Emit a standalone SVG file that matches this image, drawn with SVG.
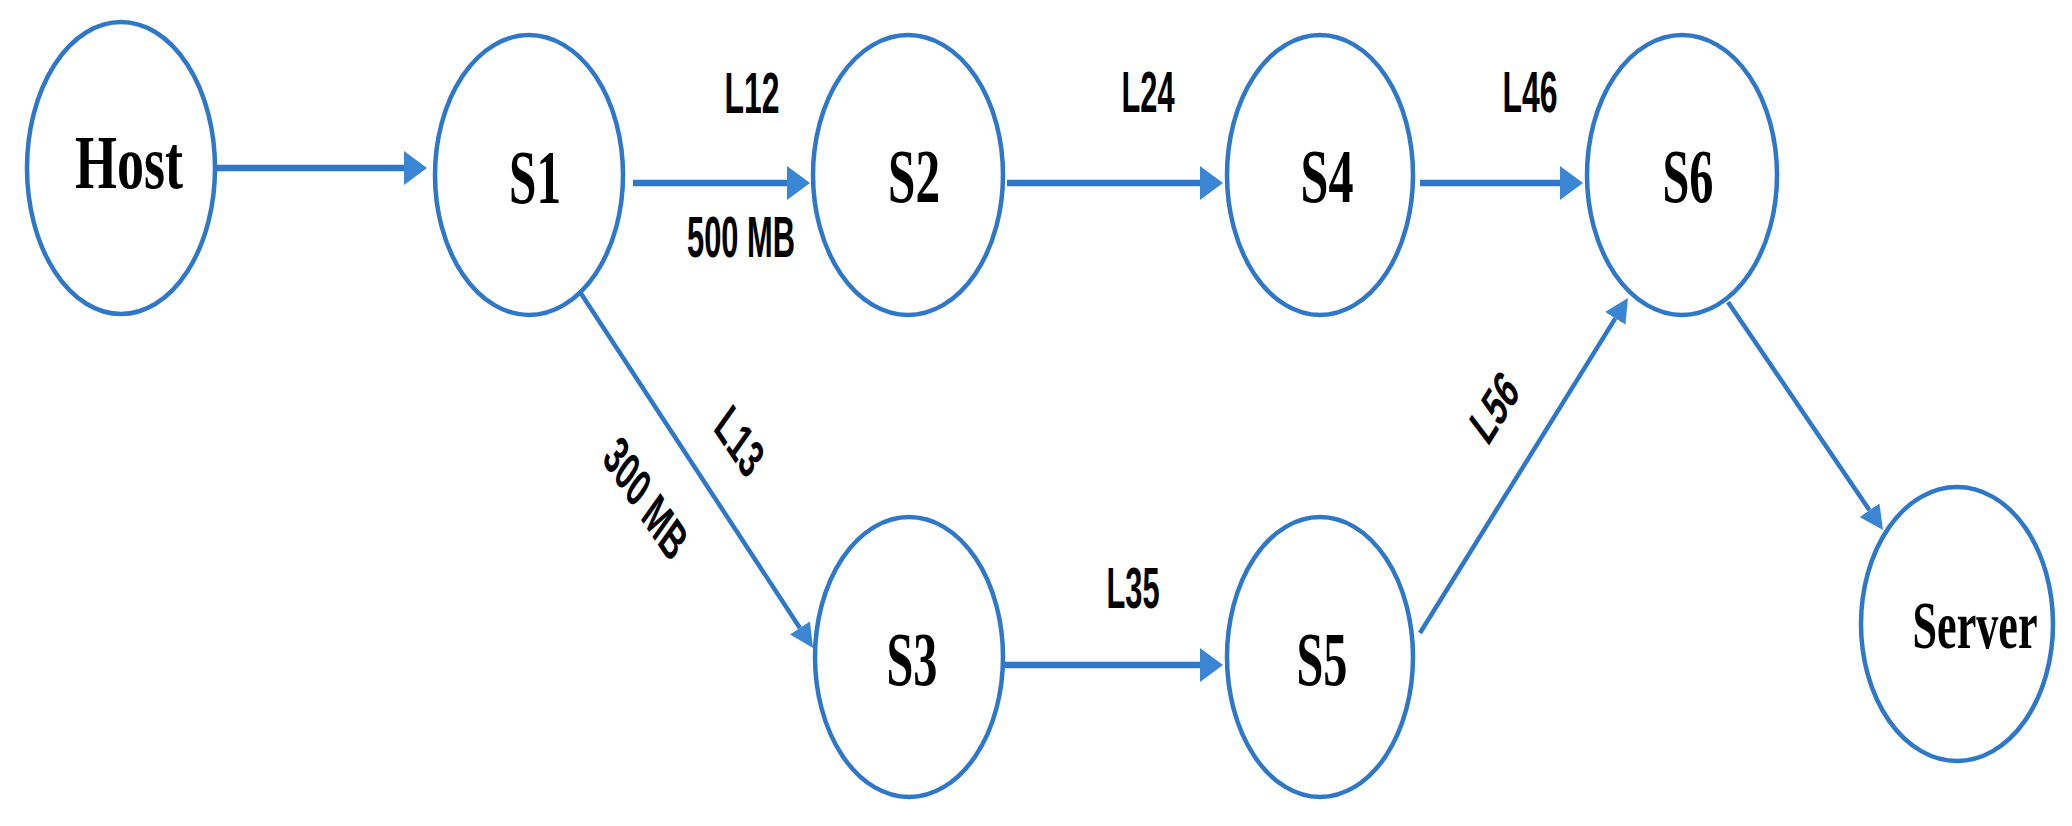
<svg xmlns="http://www.w3.org/2000/svg" width="2072" height="826" viewBox="0 0 2072 826">
<style>
.node{fill:#ffffff;stroke:#2E77C9;stroke-width:4.5}
.nl{font-family:"Liberation Serif","Times New Roman",serif;font-weight:bold;fill:#000;text-anchor:middle}
.el{font-family:"Liberation Sans Narrow","Liberation Sans",Arial,sans-serif;font-weight:bold;font-size:39px;fill:#000;text-anchor:middle}
.h{fill:none;stroke:#2E77C9;stroke-width:6.5;marker-end:url(#ah)}
.d{fill:none;stroke:#2E77C9;stroke-width:4.5;marker-end:url(#ad)}
</style>
<defs>
<marker id="ah" markerUnits="userSpaceOnUse" viewBox="0 -17 23 34" markerWidth="23" markerHeight="34" refX="0" refY="0" orient="auto">
<path d="M0,-17 L23,0 L0,17 Z" fill="#3A86D4"/>
</marker>
<marker id="ad" markerUnits="userSpaceOnUse" viewBox="0 -12 24 24" markerWidth="24" markerHeight="24" refX="0" refY="0" orient="auto">
<path d="M0,-12 L24,0 L0,12 Z" fill="#3A86D4"/>
</marker>
</defs>
<rect width="2072" height="826" fill="#ffffff"/>
<g id="connectors">
<path class="h" d="M217,168 H404"/>
<path class="h" d="M633,183 H787"/>
<path class="h" d="M1007,183 H1200"/>
<path class="h" d="M1420,183 H1560"/>
<path class="h" d="M1005,665 H1200"/>
<path class="d" d="M580,292 L799.9,627.9"/>
<path class="d" d="M1420,633 L1615.3,318.4"/>
<path class="d" d="M1728,302 L1869.5,510.2"/>
<g id="link-labels">
<text class="el" transform="translate(752,113) scale(1,1.45)" textLength="55" lengthAdjust="spacingAndGlyphs">L12</text>
<text class="el" transform="translate(741,257) scale(1,1.45)" textLength="108" lengthAdjust="spacingAndGlyphs">500 MB</text>
<text class="el" transform="translate(1148,112) scale(1,1.45)" textLength="53" lengthAdjust="spacingAndGlyphs">L24</text>
<text class="el" transform="translate(1530,112) scale(1,1.45)" textLength="55" lengthAdjust="spacingAndGlyphs">L46</text>
<text class="el" transform="translate(1133,608) scale(1,1.45)" textLength="53" lengthAdjust="spacingAndGlyphs">L35</text>
<text class="el" transform="translate(740,441) scale(1,1.45) rotate(45.9)" x="0" y="14" textLength="50" lengthAdjust="spacingAndGlyphs">L13</text>
<text class="el" transform="translate(646,498) scale(1,1.45) rotate(45.9)" x="0" y="14" textLength="100" lengthAdjust="spacingAndGlyphs">300 MB</text>
<text class="el" transform="translate(1494,407) scale(1,1.45) rotate(-48)" x="0" y="14" textLength="50" lengthAdjust="spacingAndGlyphs">L56</text>
</g>
</g>
<g id="host">
<ellipse class="node" cx="121" cy="168" rx="94" ry="146"/>
<text class="nl" font-size="52" transform="translate(129,188) scale(1,1.45)" textLength="108" lengthAdjust="spacingAndGlyphs">Host</text>
</g>
<g id="s1">
<ellipse class="node" cx="529" cy="175" rx="94" ry="140"/>
<text class="nl" font-size="53" transform="translate(535,203) scale(1,1.45)" textLength="52" lengthAdjust="spacingAndGlyphs">S1</text>
</g>
<g id="s2">
<ellipse class="node" cx="908" cy="175" rx="95" ry="140"/>
<text class="nl" font-size="53" transform="translate(914,202) scale(1,1.45)" textLength="52" lengthAdjust="spacingAndGlyphs">S2</text>
</g>
<g id="s4">
<ellipse class="node" cx="1320" cy="175" rx="93" ry="140"/>
<text class="nl" font-size="53" transform="translate(1327,202) scale(1,1.45)" textLength="53" lengthAdjust="spacingAndGlyphs">S4</text>
</g>
<g id="s6">
<ellipse class="node" cx="1682" cy="175" rx="95" ry="140"/>
<text class="nl" font-size="53" transform="translate(1688,202) scale(1,1.45)" textLength="51" lengthAdjust="spacingAndGlyphs">S6</text>
</g>
<g id="s3">
<ellipse class="node" cx="909" cy="657" rx="94" ry="140"/>
<text class="nl" font-size="53" transform="translate(912,685) scale(1,1.45)" textLength="51" lengthAdjust="spacingAndGlyphs">S3</text>
</g>
<g id="s5">
<ellipse class="node" cx="1320" cy="657" rx="93" ry="140"/>
<text class="nl" font-size="53" transform="translate(1322,685) scale(1,1.45)" textLength="51" lengthAdjust="spacingAndGlyphs">S5</text>
</g>
<g id="server">
<ellipse class="node" cx="1957" cy="624" rx="96" ry="137"/>
<text class="nl" font-size="47" transform="translate(1975,648) scale(1,1.45)" textLength="125" lengthAdjust="spacingAndGlyphs">Server</text>
</g>
</svg>
